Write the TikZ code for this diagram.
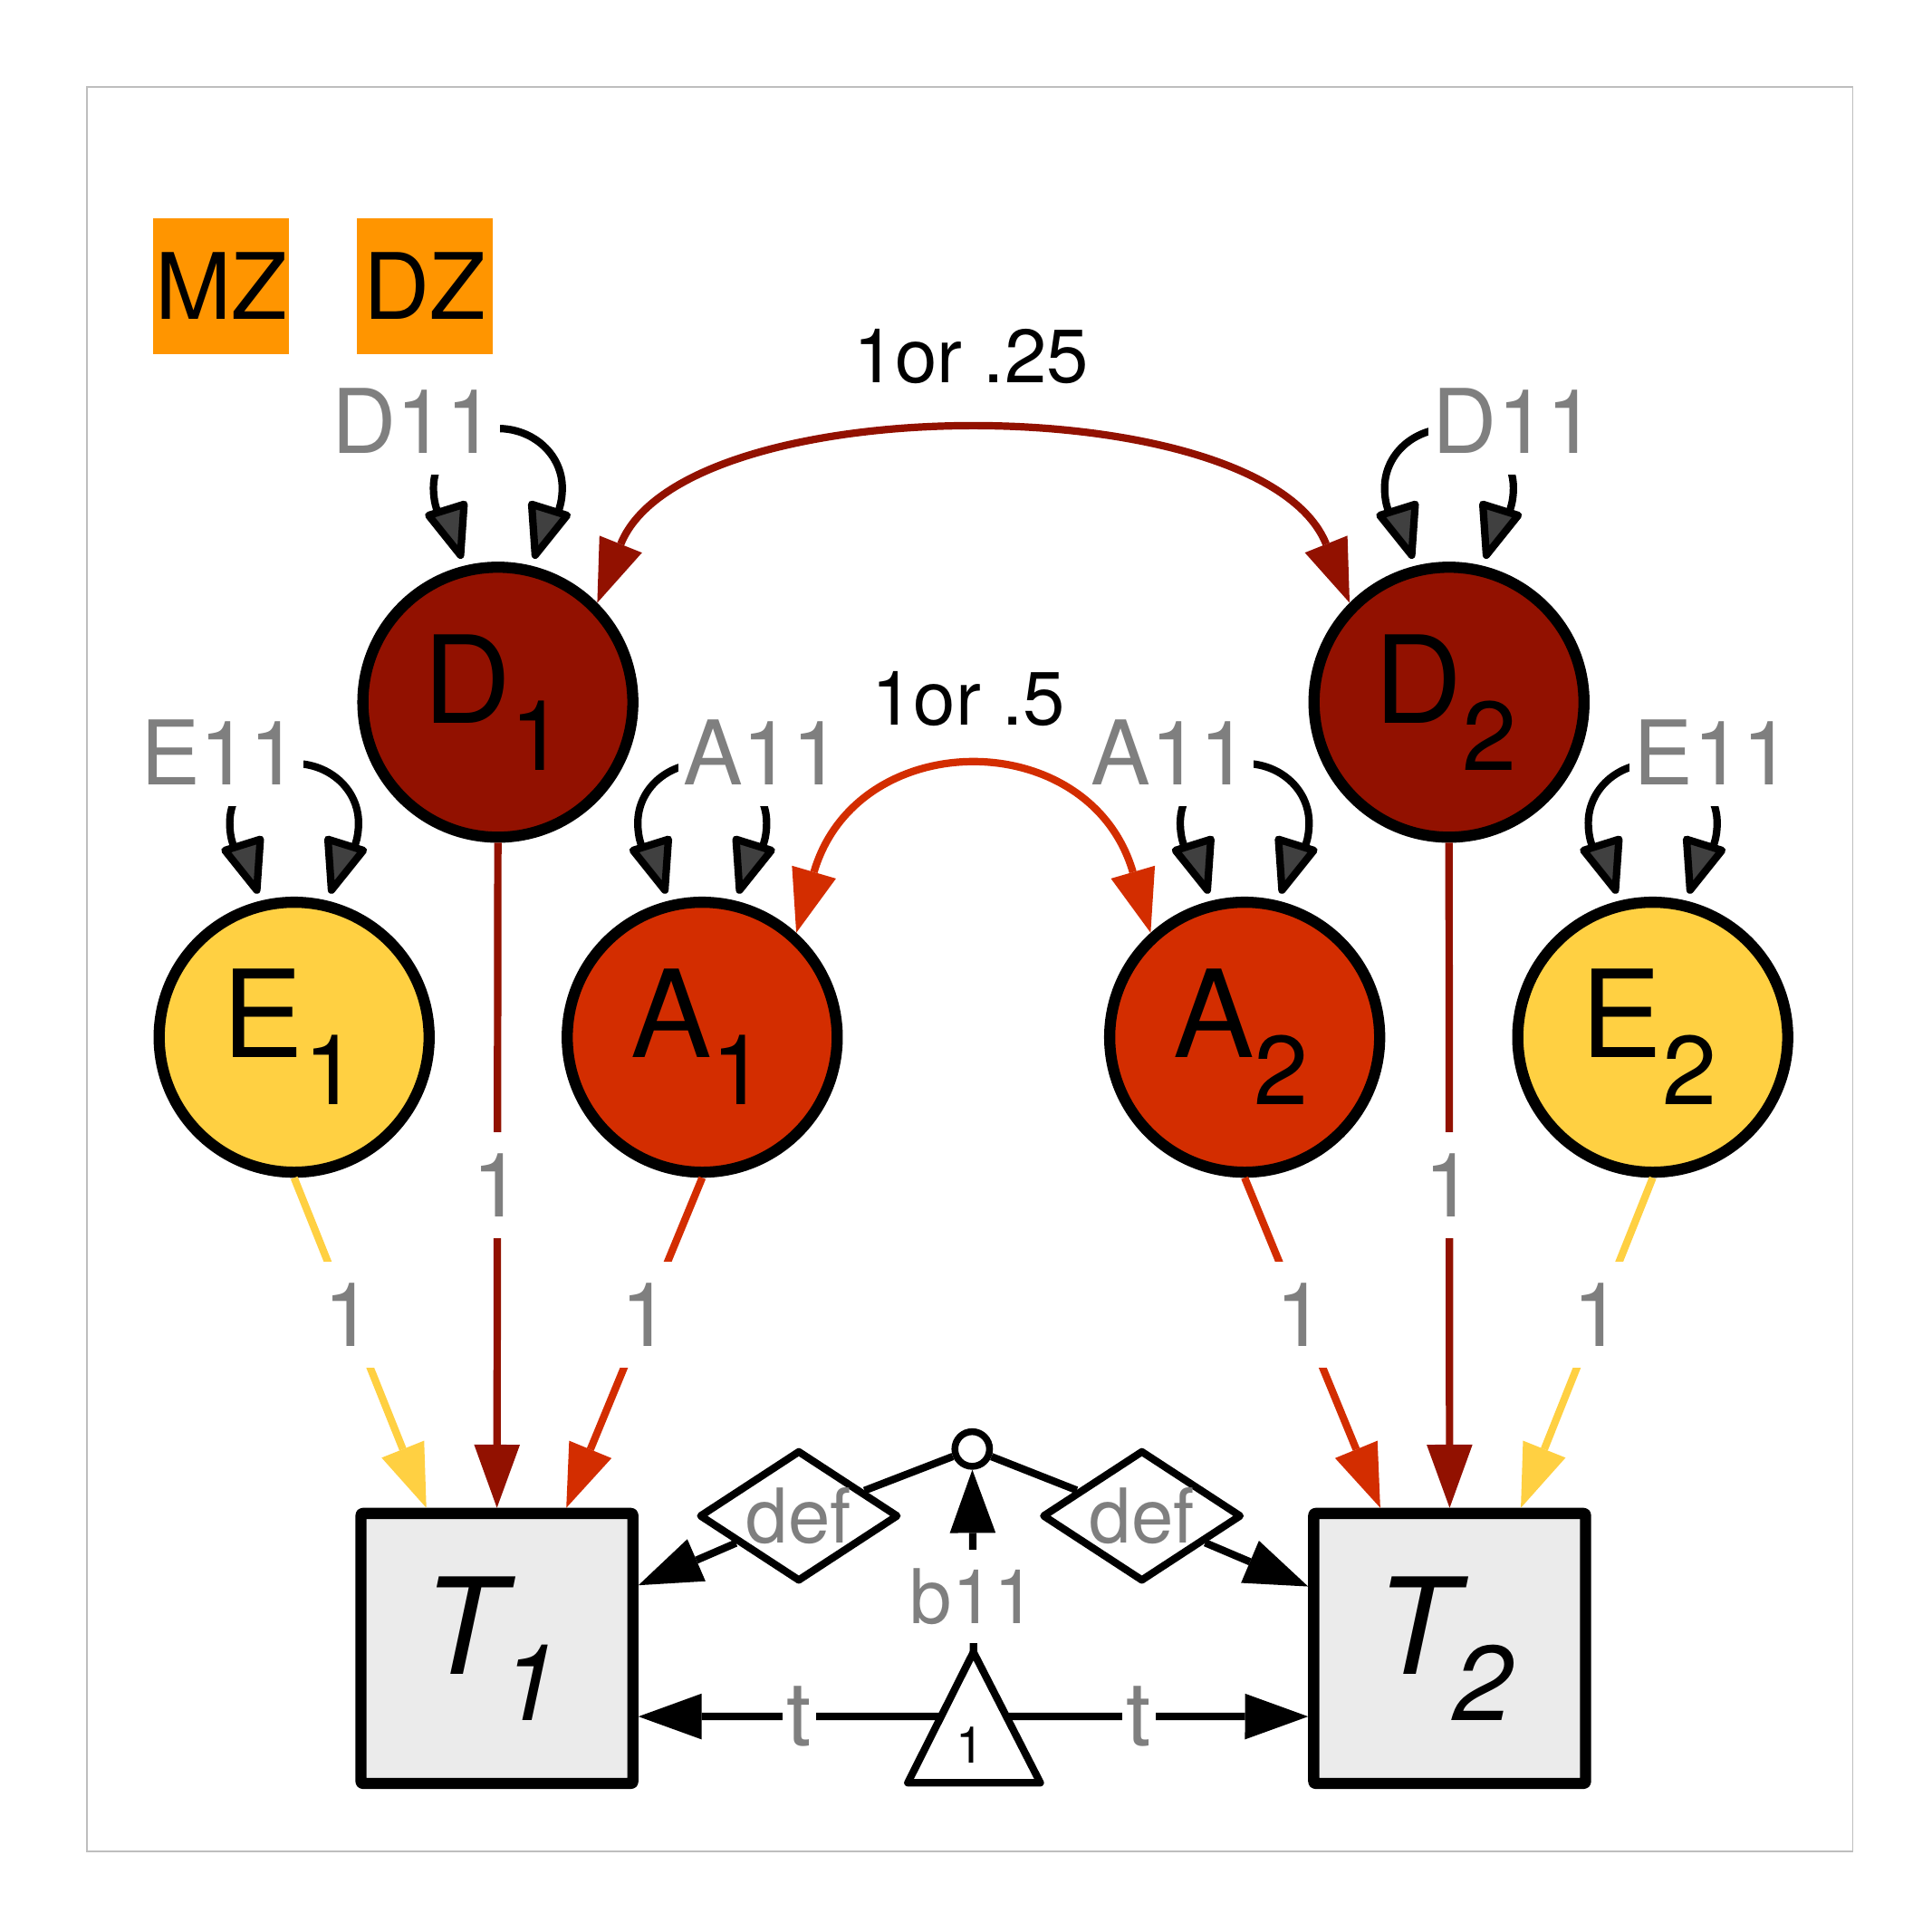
\documentclass[tikz,border=0pt]{standalone}
\usepackage{fontspec}
\setmainfont{TeX Gyre Heros}
\usetikzlibrary{arrows.meta,calc,shapes.geometric}

\definecolor{dcol}{RGB}{146,17,0}
\definecolor{acol}{RGB}{211,45,0}
\definecolor{ecol}{RGB}{255,208,66}
\definecolor{tgray}{RGB}{235,235,235}
\definecolor{grporange}{RGB}{255,149,0}
\definecolor{labgray}{RGB}{127,127,127}
\definecolor{loopgray}{RGB}{64,64,64}
\definecolor{framecol}{RGB}{190,190,190}

\newcommand{\latlab}[2]{{\fontsize{98}{98}\selectfont #1}\raisebox{-38pt}{\fontsize{79}{79}\selectfont #2}\kern6pt}
\newcommand{\obslab}[2]{{\itshape\fontsize{108}{108}\selectfont #1}\kern-3pt\raisebox{-37pt}{\itshape\fontsize{86}{86}\selectfont #2}\kern9pt}
\newcommand{\selfloop}[1]{\draw[loopline] (#1.104) .. controls +(-7.5,-24) and +(0,27) .. ($(#1.center)+(-52,-173)$) .. controls +(0,-27) and +(-28.7,0) .. ($(#1.center)+(0,-221)$) .. controls +(28.7,0) and +(0,-27) .. ($(#1.center)+(52,-173)$) .. controls +(0,27) and +(7.5,-24) .. (#1.76);}

\tikzset{
  ctip/.tip={Triangle[length=51pt,width=37pt,line width=0pt]},
  ltip/.tip={Triangle[length=50pt,width=37pt,fill=loopgray,round]},
  latnode/.style={circle, draw=black, line width=9pt, minimum size=218pt, inner sep=0pt},
  obsnode/.style={rectangle, draw=black, fill=tgray, line width=9pt, minimum width=219.5pt, minimum height=218pt, inner sep=0pt, rounded corners=1.5pt, line join=round},
  lab/.style={text=labgray, fill=white, font=\fontsize{72}{72}\selectfont, inner xsep=3.5pt, inner ysep=17pt},
  slab/.style={text=labgray, fill=white, font=\fontsize{61}{61}\selectfont, inner xsep=3pt, inner ysep=15pt},
  corlab/.style={text=black, font=\fontsize{61}{61}\selectfont, inner sep=0pt},
  colpath/.style={line width=6pt, arrows={-ctip}},
  curvepath/.style={line width=6pt, arrows={ctip-ctip}},
  blk/.style={draw=black, line width=6pt},
  loopline/.style={draw=black, line width=6pt, arrows={ltip-ltip}, shorten <=6pt, shorten >=6pt},
  grp/.style={fill=grporange, minimum size=109.7pt, inner sep=0pt, font=\fontsize{74}{74}\selectfont},
  defnode/.style={diamond, aspect=1.514, draw=black, fill=white, line width=6pt, line join=round, minimum width=161pt, minimum height=106pt, inner sep=0pt, text=labgray, font=\fontsize{61}{61}\selectfont},
}

\begin{document}
\begin{tikzpicture}[x=1pt,y=-1pt]
\useasboundingbox (0,0) rectangle (1560,1560);
\fill[white] (0,0) rectangle (1560,1560);
\draw[framecol, line width=1.2pt] (70,70) rectangle (1496,1495);

% group boxes
\node[grp] (MZ) at (178.6,231.1) {MZ};
\node[grp] (DZ) at (343.1,231.1) {DZ};

% latent variables
\node[latnode, fill=dcol] (D1) at (402,567) {\latlab{D}{1}};
\node[latnode, fill=dcol] (D2) at (1170,567) {\latlab{D}{2}};
\node[latnode, fill=ecol] (E1) at (237.5,837.5) {\latlab{E}{1}};
\node[latnode, fill=acol] (A1) at (567,837.5) {\latlab{A}{1}};
\node[latnode, fill=acol] (A2) at (1005,837.5) {\latlab{A}{2}};
\node[latnode, fill=ecol] (E2) at (1334.5,837.5) {\latlab{E}{2}};

% observed
\node[obsnode] (T1) at (401.25,1331) {\obslab{T}{1}};
\node[obsnode] (T2) at (1170.5,1331) {\obslab{T}{2}};

% self loops
\selfloop{D1}
\selfloop{D2}
\selfloop{E1}
\selfloop{A1}
\selfloop{A2}
\selfloop{E2}
\node[lab] (D1v) at ($(D1.center)+(-68,-227)$) {D11};
\node[lab] (D2v) at ($(D2.center)+(53,-227)$) {D11};
\node[lab] (E1v) at ($(E1.center)+(-60,-230)$) {E11};
\node[lab] (A1v) at ($(A1.center)+(48.5,-230)$) {A11};
\node[lab] (A2v) at ($(A2.center)+(-60,-230)$) {A11};
\node[lab] (E2v) at ($(E2.center)+(48.5,-230)$) {E11};

% covariances
\draw[curvepath, draw=dcol] (D1.45) .. controls +(70,-175) and +(-70,-175) .. (D2.135);
\node[corlab] (rD) at (784,288) {1or .25};
\draw[curvepath, draw=acol] (A1.48) .. controls +(49,-168) and +(-49,-168) .. (A2.132);
\node[corlab] (rA) at (782,564) {1or .5};

% loadings
\draw[colpath, draw=ecol] (E1.south) -- ($(T1.north)+(-57,0)$) node[lab, pos=0.415] {1};
\draw[colpath, draw=dcol] (D1.south) -- (T1.north) node[lab, pos=0.515] {1};
\draw[colpath, draw=acol] (A1.south) -- ($(T1.north)+(56,0)$) node[lab, pos=0.415] {1};
\draw[colpath, draw=acol] (A2.south) -- ($(T2.north)+(-56,0)$) node[lab, pos=0.415] {1};
\draw[colpath, draw=dcol] (D2.south) -- (T2.north) node[lab, pos=0.515] {1};
\draw[colpath, draw=ecol] (E2.south) -- ($(T2.north)+(57.5,0)$) node[lab, pos=0.415] {1};

% definition variables and means
\node[circle, draw=black, fill=white, line width=5.5pt, minimum size=28pt, inner sep=0pt] (dot) at (785,1170) {};
\node[defnode] (defL) at (645,1224) {def};
\node[defnode] (defR) at (922,1224) {def};
\draw[blk, arrows={-ctip}] (dot) -- (defL) -- ($(T1.east)+(0,-51)$);
\draw[blk, arrows={-ctip}] (dot) -- (defR) -- ($(T2.west)+(0,-50)$);

\coordinate (triA) at (786,1334);
\coordinate (triL) at (733,1439.5);
\coordinate (triR) at (840,1439.5);
\coordinate (triLe) at ($(triL)!0.508!(triA)$);
\coordinate (triRe) at ($(triR)!0.508!(triA)$);
\draw[blk, arrows={-ctip}] (triLe) -- ($(T1.east)+(0,55)$) node[lab, pos=0.468] {t};
\draw[blk, arrows={-ctip}] (triRe) -- ($(T2.west)+(0,55)$) node[lab, pos=0.44] {t};
\draw[blk, fill=white, line join=round] (triA) -- (triL) -- (triR) -- cycle;
\node[font=\fontsize{41}{41}\selectfont, inner sep=0pt] (triOne) at (783,1409) {1};
\draw[blk, arrows={-ctip}] (triA) -- (dot) node[slab, pos=0.306] {b11};
\end{tikzpicture}
\end{document}
